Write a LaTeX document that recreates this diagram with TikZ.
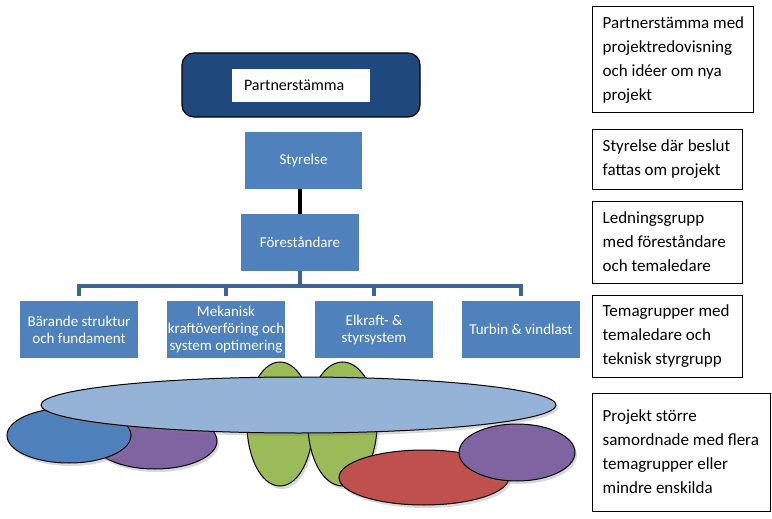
\documentclass[tikz,border=0pt]{standalone}
\usepackage{fontspec}
\setmainfont{Carlito}
\usetikzlibrary{shapes.geometric,shadows,calc}
\definecolor{acc}{HTML}{4F81BD}
\definecolor{darkacc}{HTML}{1F497D}
\definecolor{conn}{HTML}{3D6494}
\definecolor{lblue}{HTML}{95B3D7}
\definecolor{purp}{HTML}{8064A2}
\definecolor{grn}{HTML}{9BBB59}
\definecolor{rd}{HTML}{C0504D}
\begin{document}
\begin{tikzpicture}[x=1pt,y=-1pt,
 orgbox/.style={fill=acc, text=white, minimum width=118pt, minimum height=57pt, inner sep=0pt, align=center, font=\fontsize{15}{17}\selectfont},
 notebox/.style={draw, line width=1pt, inner sep=0pt},
 notetext/.style={anchor=west, inner sep=0pt, align=left, font=\fontsize{17}{24}\selectfont},
 ell/.style={ellipse, draw, line width=1pt, inner sep=0pt, drop shadow={opacity=0.3, shadow xshift=2pt, shadow yshift=-3pt}},
 conline/.style={draw=conn, line width=4pt},
]
\useasboundingbox (0,0) rectangle (772,519);

% top of hierarchy
\node[draw=black, line width=1.2pt, fill=darkacc, rounded corners=12pt, minimum width=238pt, minimum height=64pt, inner sep=0pt] (ps) at (301,85) {};
\node[fill=white, minimum height=33pt, text width=114pt, inner xsep=12pt, inner ysep=0pt, align=left, font=\fontsize{16}{19}\selectfont] (psl) at (301,85.5) {Partnerstämma};

\node[orgbox, minimum width=117pt] (sty) at (303.5,160.5) {Styrelse};
\node[orgbox] (fore) at (300,242.5) {Föreståndare};
\draw[line width=4.5pt] (fore.north |- sty.south) -- (fore.north);

% theme groups
\node[orgbox] (b1) at (79,329.5) {Bärande struktur\\och fundament};
\node[orgbox] (b2) at (226,329.5) {Mekanisk\\kraftöverföring och\\system optimering};
\node[orgbox] (b3) at (374,329.5) {Elkraft- \&\\styrsystem};
\node[orgbox] (b4) at (521,329.5) {Turbin \& vindlast};

\coordinate (bar) at (300,286);
\coordinate (t1) at ($(b1.north)+(0,-5)$);
\coordinate (t2) at ($(b2.north)+(0,-5)$);
\coordinate (t3) at ($(b3.north)+(0,-5)$);
\coordinate (t4) at ($(b4.north)+(0,-5)$);
\draw[conline] (fore.south) -- (bar);
\draw[conline] (t1) |- (bar) -| (t4);
\draw[conline] (t2) -- (t2 |- bar);
\draw[conline] (t3) -- (t3 |- bar);

% project ellipses
\node[ell, fill=purp, minimum width=124pt, minimum height=56pt] (pl) at (155,441) {};
\node[ell, fill=acc, minimum width=124pt, minimum height=55pt] (bl) at (69,435.5) {};
\node[ell, fill=grn, minimum width=66pt, minimum height=124pt] (g1) at (280,424) {};
\node[ell, fill=grn, minimum width=69pt, minimum height=124pt] (g2) at (342.5,424) {};
\node[ell, fill=lblue, minimum width=515pt, minimum height=56pt] (big) at (298.5,405) {};
\node[ell, fill=rd, minimum width=170pt, minimum height=55pt] (red) at (424,477.5) {};
\node[ell, fill=purp, minimum width=116pt, minimum height=57pt] (pr) at (517,452.5) {};

% notes on the right
\node[notebox, minimum width=161pt, minimum height=106pt] (nA) at (672.5,60) {};
\node[notetext] (tA) at ($(nA.west)+(11,0)$) {Partnerstämma med\\projektredovisning\\och idéer om nya\\projekt};
\node[notebox, minimum width=150pt, minimum height=59pt] (nB) at (667,159.5) {};
\node[notetext] (tB) at ($(nB.west)+(11,0)$) {Styrelse där beslut\\fattas om projekt};
\node[notebox, minimum width=150pt, minimum height=82pt] (nC) at (667,242) {};
\node[notetext] (tC) at ($(nC.west)+(11,0)$) {Ledningsgrupp\\med föreståndare\\och temaledare};
\node[notebox, minimum width=150pt, minimum height=82pt] (nD) at (667,336) {};
\node[notetext] (tD) at ($(nD.west)+(11,0)$) {Temagrupper med\\temaledare och\\teknisk styrgrupp};
\node[notebox, minimum width=178pt, minimum height=118pt] (nE) at (681,452) {};
\node[notetext] (tE) at ($(nE.west)+(11,0)$) {Projekt större\\samordnade med flera\\temagrupper eller\\mindre enskilda};
\end{tikzpicture}
\end{document}
